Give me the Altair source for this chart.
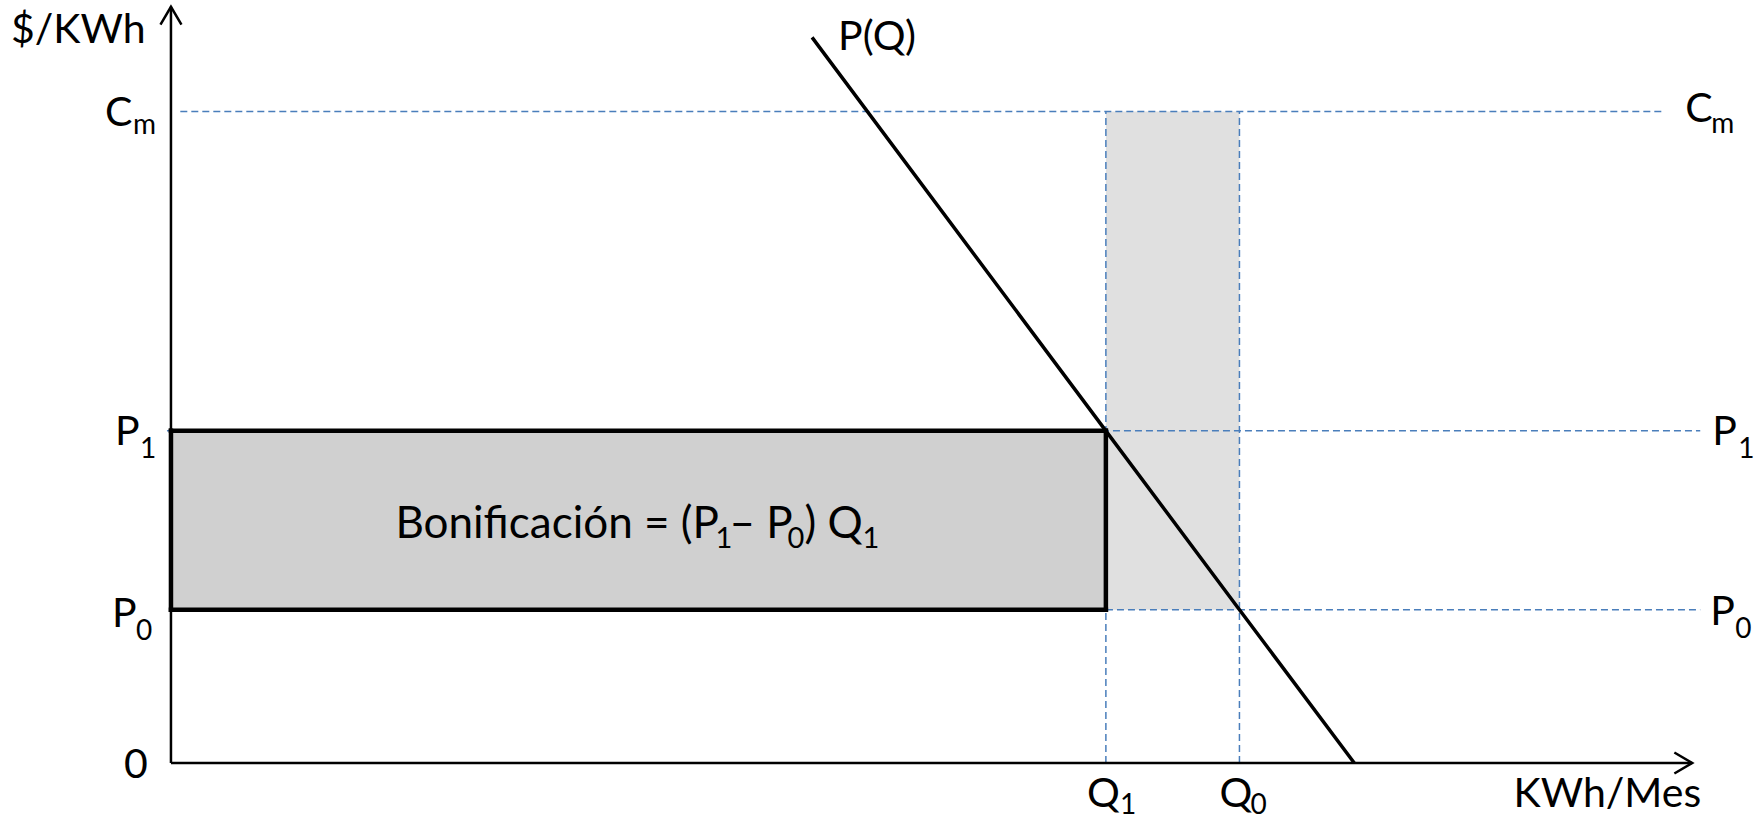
import altair as alt
import pandas as pd

# Price levels ($/KWh)
price_names = ["P0", "P1", "Cm"]
price_values = [0.30, 0.65, 1.275]

# Quantity levels (KWh/Mes)
qty_names = ["Q1", "Q0"]
qty_values = [70.0, 80.0]

# Demand curve P(Q)
demand_q = [48.0, 70.0, 80.0, 88.6]
demand_p = [1.42, 0.65, 0.30, 0.0]

P0, P1, CM = price_values
Q1, Q0 = qty_values

# Extents of the drawn axes and guide lines (data units)
X_TIP, Y_TIP = 113.9, 1.48
GUIDE_END = 114.5
CM_START, CM_END = 0.7, 111.8

W, H = 1763, 820
FONT = "Lato"
BASE, SUB = 41, 28
FBASE, FSUB = 44, 29
BLUE = "#4a7ebb"

xs = alt.Scale(domain=[-12.8, 119.2], nice=False, zero=False)
ys = alt.Scale(domain=[-0.1116, 1.4932], nice=False, zero=False)


def X(f):
    return alt.X(f, type="quantitative", scale=xs, axis=None)


def Y(f):
    return alt.Y(f, type="quantitative", scale=ys, axis=None)


# Dotted band between Q1 and Q0
band = alt.Chart(pd.DataFrame({"x": [Q1], "x2": [Q0], "y": [P0], "y2": [CM]})).mark_rect(
    fill="#e0e0e0"
).encode(x=X("x"), x2="x2", y=Y("y"), y2="y2")

# Horizontal dashed guides at Cm, P1 and P0
hguides = pd.DataFrame({
    "name": ["Cm", "P1", "P0"],
    "y": [CM, P1, P0],
    "x": [CM_START, -0.3, 0.0],
    "x2": [CM_END, GUIDE_END, GUIDE_END],
})
hrules = alt.Chart(hguides).mark_rule(
    color=BLUE, strokeWidth=1.5, strokeDash=[7, 4]
).encode(x=X("x"), x2="x2", y=Y("y"))

# Vertical dashed guides at Q1 and Q0
vguides = pd.DataFrame({"name": qty_names, "x": qty_values, "y": [0.0, 0.0], "y2": [CM, CM]})
vrules = alt.Chart(vguides).mark_rule(
    color=BLUE, strokeWidth=1.5, strokeDash=[7, 4]
).encode(x=X("x"), y=Y("y"), y2="y2")

# Bonus rectangle (P1 - P0) * Q1
bonus = alt.Chart(pd.DataFrame({"x": [0.0], "x2": [Q1], "y": [P0], "y2": [P1]})).mark_rect(
    fill="#d0d0d0"
).encode(x=X("x"), x2="x2", y=Y("y"), y2="y2")

# Its heavy outline
edges_h = alt.Chart(pd.DataFrame({"x": [0.0, 0.0], "x2": [Q1, Q1], "y": [P0, P1]})).mark_rule(
    color="black", strokeWidth=4.5, strokeCap="square"
).encode(x=X("x"), x2="x2", y=Y("y"))
edges_v = alt.Chart(pd.DataFrame({"x": [0.0, Q1], "y": [P0, P0], "y2": [P1, P1]})).mark_rule(
    color="black", strokeWidth=4.5, strokeCap="square"
).encode(x=X("x"), y=Y("y"), y2="y2")

# Demand curve
demand = alt.Chart(pd.DataFrame({"q": demand_q, "p": demand_p})).mark_line(
    color="black", strokeWidth=3.5
).encode(x=X("q"), y=Y("p"), order="q:Q")

# Axes with open arrow heads
x_axis = alt.Chart(pd.DataFrame({"x": [0.0], "x2": [X_TIP], "y": [0.0]})).mark_rule(
    color="black", strokeWidth=2.5
).encode(x=X("x"), x2="x2", y=Y("y"))
y_axis = alt.Chart(pd.DataFrame({"x": [0.0], "y": [0.0], "y2": [Y_TIP]})).mark_rule(
    color="black", strokeWidth=2.5
).encode(x=X("x"), y=Y("y"), y2="y2")

arrow_up = alt.Chart(pd.DataFrame({"x": [0.0], "y": [Y_TIP]})).mark_point(
    shape="M-1,1.7L0,0L1,1.7", size=441, filled=False, stroke="black",
    strokeWidth=2.5, opacity=1
).encode(x=X("x"), y=Y("y"))
arrow_right = alt.Chart(pd.DataFrame({"x": [X_TIP], "y": [0.0]})).mark_point(
    shape="M-1.7,-1L0,0L-1.7,1", size=441, filled=False, stroke="black",
    strokeWidth=2.5, opacity=1
).encode(x=X("x"), y=Y("y"))


def txt(text, x, y, dx, dy, size=BASE, align="left"):
    return alt.Chart(pd.DataFrame({"x": [x], "y": [y], "t": [text]})).mark_text(
        font=FONT, fontSize=size, color="black", align=align,
        baseline="alphabetic", dx=dx, dy=dy
    ).encode(x=X("x"), y=Y("y"), text="t:N")


cx, cy = Q1 / 2, (P0 + P1) / 2
labels = [
    # axis titles
    txt("$/KWh", 0.0, Y_TIP, -160, 36),
    txt("KWh/Mes", X_TIP, 0.0, 9, 44, align="right"),
    txt("0", 0.0, 0.0, -47, 15),
    txt("P(Q)", demand_q[0], demand_p[0], 26, 13),
    # left price labels
    txt("C", 0.0, CM, -66, 15), txt("m", 0.0, CM, -38, 23, SUB),
    txt("P", 0.0, P1, -56, 14), txt("1", 0.0, P1, -31, 27, SUB),
    txt("P", 0.0, P0, -59, 17), txt("0", 0.0, P0, -35, 30, SUB),
    # right price labels
    txt("C", GUIDE_END, CM, -15, 11), txt("m", GUIDE_END, CM, 11, 22, SUB),
    txt("P", GUIDE_END, P1, 12, 14), txt("1", GUIDE_END, P1, 38, 27, SUB),
    txt("P", GUIDE_END, P0, 10, 15), txt("0", GUIDE_END, P0, 35, 28, SUB),
    # quantity labels
    txt("Q", Q1, 0.0, -19, 44), txt("1", Q1, 0.0, 14, 51, SUB),
    txt("Q", Q0, 0.0, -20, 44), txt("0", Q0, 0.0, 11, 51, SUB),
    # bonus formula
    txt("Bonificación = (P", cx, cy, -243, 18, FBASE),
    txt("1", cx, cy, 77, 28, FSUB),
    txt("– P", cx, cy, 91, 18, FBASE),
    txt("0", cx, cy, 149, 28, FSUB),
    txt(") Q", cx, cy, 166, 18, FBASE),
    txt("1", cx, cy, 224, 28, FSUB),
]

chart = alt.layer(
    band, hrules, vrules, bonus, edges_h, edges_v, demand,
    x_axis, y_axis, arrow_up, arrow_right, *labels
).properties(
    width=W, height=H, padding=0, autosize=alt.AutoSizeParams(type="none"),
    background="white"
).configure_view(stroke=None)

chart.save("out.html", embed_options={"renderer": "svg", "actions": False})
